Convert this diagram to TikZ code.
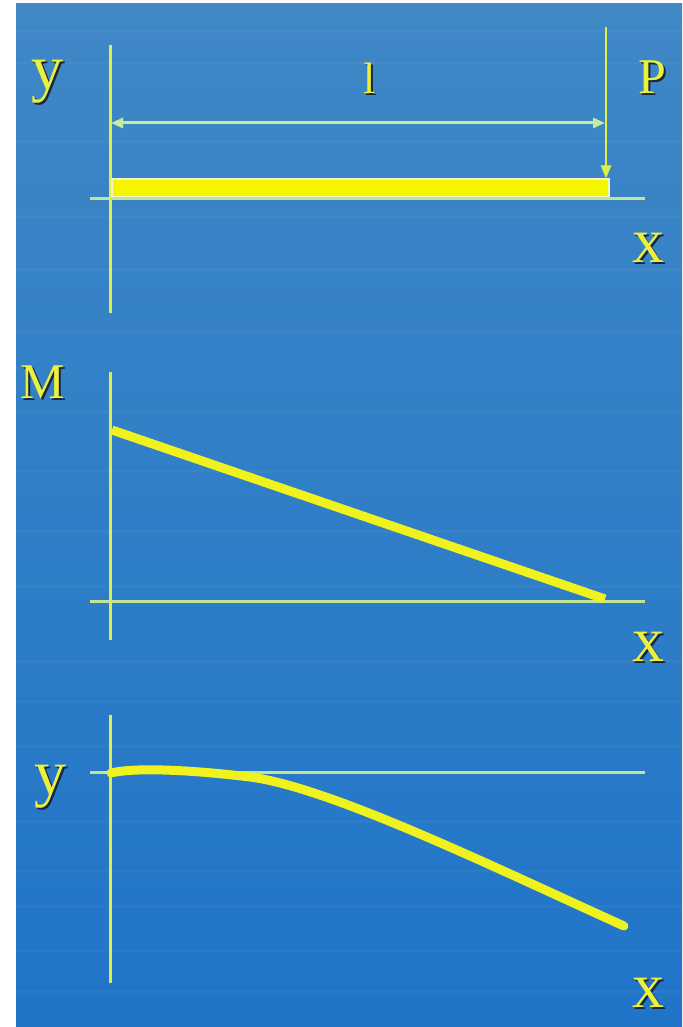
\documentclass[tikz,border=0pt]{standalone}
\usepackage{fontspec}
\setmainfont{Liberation Serif}
\usetikzlibrary{arrows.meta}
\definecolor{bgtop}{RGB}{64,136,198}
\definecolor{bgbot}{RGB}{32,116,200}
\definecolor{axisc}{RGB}{222,240,70}
\definecolor{haxisc}{RGB}{190,230,150}
\definecolor{dimc}{RGB}{196,236,160}
\definecolor{curvec}{RGB}{240,242,30}
\definecolor{beamc}{RGB}{245,245,0}
\definecolor{beamedge}{RGB}{245,245,200}
\definecolor{labelc}{RGB}{236,240,60}
\definecolor{shadowc}{RGB}{25,40,60}
\newcommand\shtxt[1]{\makebox[0pt][l]{\kern2pt\raisebox{-2pt}{\textcolor{shadowc}{#1}}}#1}
\tikzset{
  vaxis/.style={draw=axisc, line width=3pt},
  haxis/.style={draw=haxisc, line width=3pt},
  dimline/.style={draw=dimc, line width=3pt, {Triangle[length=12pt,width=10pt]}-{Triangle[length=12pt,width=10pt]}},
  loadline/.style={draw=axisc, line width=2.5pt, -{Triangle[length=13pt,width=10pt]}},
  thickcurve/.style={draw=curvec, line width=9pt},
  beam/.style={fill=beamc, draw=beamedge, line width=1.5pt},
  lbl/.style={text=labelc, inner sep=0pt, font=\fontsize{50}{54}\selectfont},
  lbllow/.style={lbl, font=\fontsize{64}{68}\selectfont},
}
\begin{document}
\begin{tikzpicture}[x=1pt, y=-1pt]
\useasboundingbox (0,0) rectangle (682,1027);
\shade[top color=bgtop, bottom color=bgbot] (16,4) rectangle (682,1027);
\foreach \yy/\op in {30/0.035,62/0.03,140/0.035,215/0.03,268/0.035,330/0.03,410/0.035,470/0.03,530/0.035,585/0.03,660/0.035,700/0.03,745/0.035,820/0.03,870/0.035,905/0.03,950/0.035,990/0.03}
  \fill[white, opacity=\op] (16,\yy) rectangle (682,\yy+3);

% ---------- top: loaded beam ----------
\coordinate (tytop) at (110,45);
\coordinate (tybot) at (110,313);
\coordinate (txl) at (90,198);
\coordinate (txr) at (645,198);
\draw[vaxis] (tytop) -- (tybot);
\draw[haxis] (txl) -- (txr);
\node[beam, minimum width=497pt, minimum height=17pt, inner sep=0pt, anchor=south west] (beamb) at (111,197) {};
\coordinate (dl) at (111,123);
\coordinate (dr) at (605,123);
\draw[dimline] (dl) -- (dr);
\coordinate (ptop) at (606,27);
\draw[loadline] (ptop) -- (beamb.north east -| ptop);
\node[lbllow] (ty) at (47,83) {\shtxt{y}};
\node[lbl, font=\fontsize{44}{48}\selectfont] (tl) at (370,79) {\shtxt{l}};
\node[lbl] (tp) at (652,78) {\shtxt{P}};
\node[lbllow] (tx) at (648,249) {\shtxt{x}};

% ---------- middle: bending moment ----------
\coordinate (mytop) at (110,372);
\coordinate (mybot) at (110,640);
\coordinate (mxl) at (90,601);
\coordinate (mxr) at (645,601);
\draw[vaxis] (mytop) -- (mybot);
\draw[haxis] (mxl) -- (mxr);
\coordinate (m0) at (112,430);
\coordinate (m1) at (605,599);
\draw[thickcurve] (m0) -- (m1);
\node[lbl] (mm) at (43,383) {\shtxt{M}};
\node[lbllow] (mx) at (648,648) {\shtxt{x}};

% ---------- bottom: deflection ----------
\coordinate (bytop) at (110,715);
\coordinate (bybot) at (110,983);
\coordinate (bxl) at (90,772);
\coordinate (bxr) at (645,772);
\draw[vaxis] (bytop) -- (bybot);
\draw[haxis] (bxl) -- (bxr);
\coordinate (d0) at (111,773);
\coordinate (d1) at (250,777);
\coordinate (d2) at (624,926);
\draw[thickcurve, line cap=round] (d0) .. controls (140,766) and (210,772) .. (d1)
  .. controls (330,787) and (500,870) .. (d2);
\node[lbllow] (by) at (50,788) {\shtxt{y}};
\node[lbllow] (bx) at (648,994) {\shtxt{x}};
\end{tikzpicture}
\end{document}
